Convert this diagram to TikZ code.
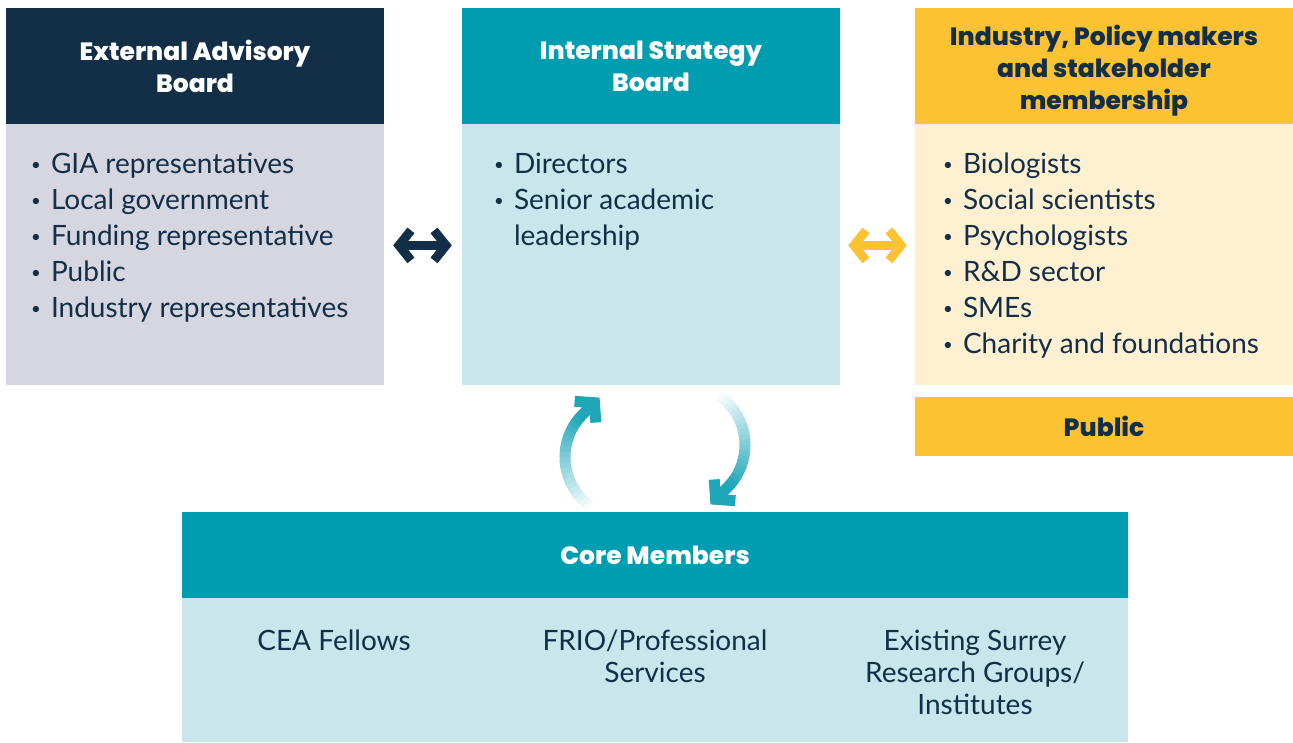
\documentclass[tikz,border=0pt]{standalone}
\usepackage{fontspec}
\usepackage{graphicx}
\setmainfont{Lato}
\newfontfamily\headfont{Poppins}[BoldFont={Poppins ExtraBold}]
\usetikzlibrary{arrows.meta,positioning}

\definecolor{cnavy}{HTML}{132F48}
\definecolor{cteal}{HTML}{009DB1}
\definecolor{cyellow}{HTML}{FBC232}
\definecolor{cgrey}{HTML}{D5D6E0}
\definecolor{cpale}{HTML}{C9E6EC}
\definecolor{ccream}{HTML}{FFF0D2}
\definecolor{carrow}{HTML}{1FA6B8}

\newcommand{\blt}{\makebox[20pt][l]{\raisebox{0.12em}{\scalebox{0.6}{\textbullet}}}}
\newcommand{\nblt}{\makebox[20pt][l]{}}

\tikzset{
  head/.style={fill=#1, minimum width=378, minimum height=116, inner sep=0,
    text=white, align=center, font=\headfont\bfseries\fontsize{25}{32}\selectfont},
  body/.style={fill=#1, minimum width=378, minimum height=261, inner sep=0},
  list/.style={anchor=north west, inner sep=0, text=cnavy,
    font=\fontsize{28}{36}\selectfont},
  col/.style={anchor=north, inner sep=0, align=center, text=cnavy,
    font=\fontsize{28}{32}\selectfont},
  dbl/.style={line width=9,
    {Straight Barb[length=12pt,width=30pt]}-{Straight Barb[length=12pt,width=30pt]}},
}

\begin{document}
\begin{tikzpicture}[x=1pt,y=-1pt]
\useasboundingbox (0,0) rectangle (1293,742);

% top row
\node[head=cnavy] (ext) at (195,66) {External Advisory\\Board};
\node[body=cgrey, below=0pt of ext] (extbody) {};
\node[list] at ([shift={(25,24)}]extbody.north west) {\begin{tabular}{@{}l@{}}
\blt GIA representatives\\
\blt Local government\\
\blt Funding representative\\
\blt Public\\
\blt Industry representatives
\end{tabular}};

\node[head=cteal] (isb) at (651,66) {Internal Strategy\\Board};
\node[body=cpale, below=0pt of isb] (isbbody) {};
\node[list] at ([shift={(32,24)}]isbbody.north west) {\begin{tabular}{@{}l@{}}
\blt Directors\\
\blt Senior academic\\
\nblt leadership
\end{tabular}};

\node[head=cyellow] (ind) at (1104,66) {};
\node[head=none, minimum width=0, minimum height=0, text=cnavy, yshift=-5pt] (indtitle) at (ind.center)
  {Industry, Policy makers\\and stakeholder\\membership};
\node[body=ccream, below=0pt of ind] (indbody) {};
\node[list] at ([shift={(28,24)}]indbody.north west) {\begin{tabular}{@{}l@{}}
\blt Biologists\\
\blt Social scientists\\
\blt Psychologists\\
\blt R\&D sector\\
\blt SMEs\\
\blt Charity and foundations
\end{tabular}};

\node[head=cyellow, text=cnavy, minimum height=59, below=11pt of indbody] (pub) {Public};

% links
\draw[dbl, cnavy, shorten <=9, shorten >=10] ([yshift=9.5pt]extbody.east) -- ([yshift=9.5pt]isbbody.west);
\draw[dbl, cyellow, shorten <=8, shorten >=8] ([yshift=9.5pt]isbbody.east) -- ([yshift=9.5pt]indbody.west);

% core members
\node[head=cteal, minimum width=946, minimum height=86] (core) at (655,555) {Core Members};
\node[body=cpale, minimum width=946, minimum height=144, below=0pt of core] (corebody) {};
\node[col] (cea) at (334,630) {CEA Fellows};
\node[col] (frio) at (655,630) {FRIO/Professional\\Services};
\node[col] (surrey) at (975,630) {Existing Surrey\\Research Groups/\\Institutes};

% cycle arrows
\foreach \i in {0,...,19}{
  \pgfmathsetmacro\a{125+5*\i}
  \pgfmathsetmacro\b{\a+5.6}
  \pgfmathtruncatemacro\p{5+5*\i}
  \draw[carrow!\p!white, line width=11] plot[domain=\a:\b, samples=4]
    ({625+60*cos(\x)},{457+60*sin(\x)});
  \draw[carrow!\p!white, line width=11] plot[domain=\a+180:\b+180, samples=4]
    ({685+60*cos(\x)},{445+60*sin(\x)});
}
\coordinate (up) at ({625+60*cos(225)},{457+60*sin(225)});
\coordinate (down) at ({685+60*cos(45)},{445+60*sin(45)});
\draw[carrow, line width=11, -{Straight Barb[length=13pt,width=30pt]}] (up) -- ++(-45:24);
\draw[carrow, line width=11, -{Straight Barb[length=13pt,width=30pt]}] (down) -- ++(135:24);
\end{tikzpicture}
\end{document}
